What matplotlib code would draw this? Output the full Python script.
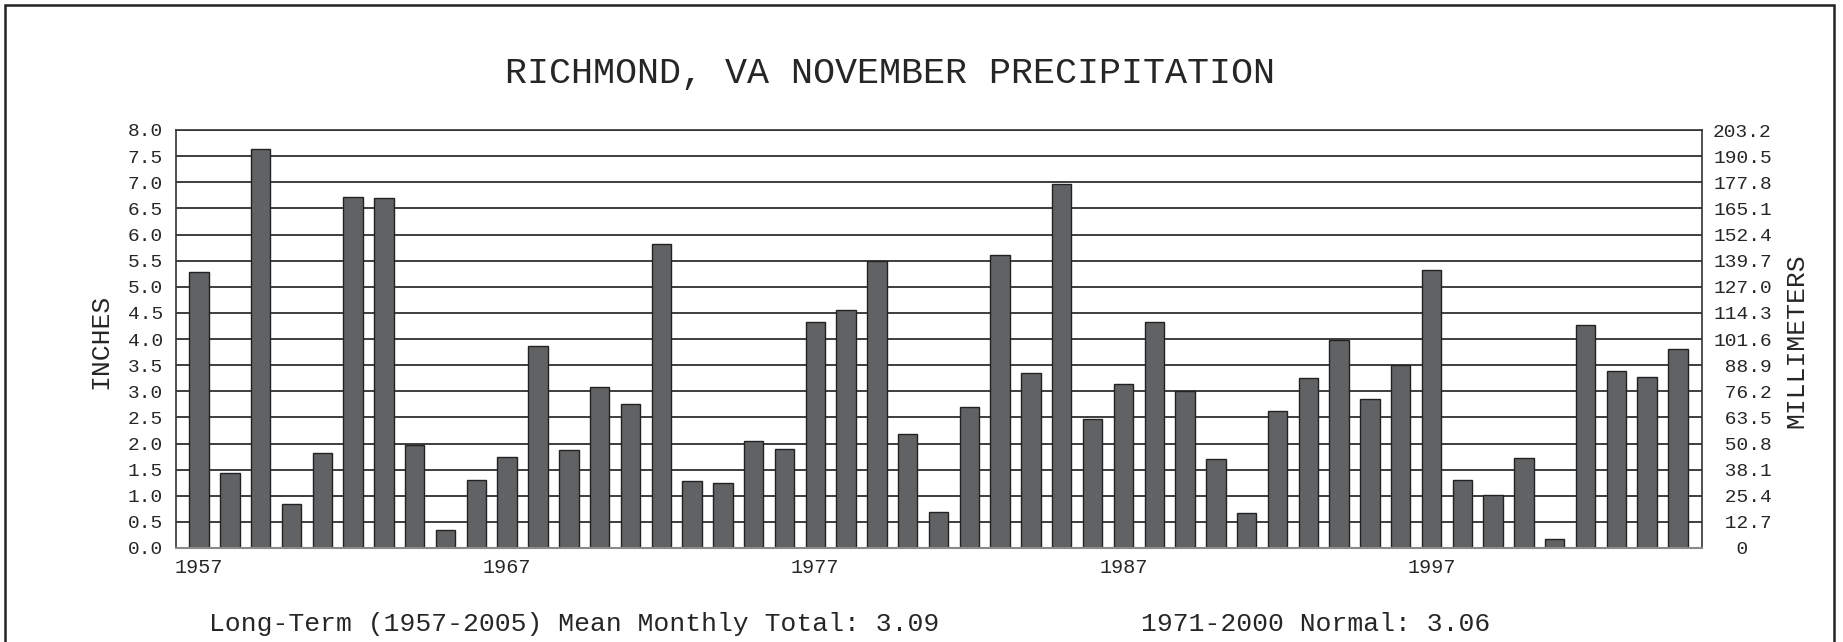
import matplotlib
matplotlib.use("Agg")
import matplotlib.pyplot as plt
from matplotlib.patches import Rectangle
import numpy as np

years = list(range(1957, 2006))
precip_in = [5.29, 1.43, 7.63, 0.85, 1.81, 6.72, 6.69, 1.98, 0.35, 1.30,
             1.75, 3.86, 1.87, 3.09, 2.75, 5.81, 1.28, 1.24, 2.04, 1.89,
             4.32, 4.56, 5.49, 2.18, 0.69, 2.70, 5.61, 3.34, 6.97, 2.46,
             3.13, 4.33, 3.00, 1.70, 0.67, 2.62, 3.25, 3.99, 2.86, 3.51,
             5.32, 1.30, 1.01, 1.72, 0.17, 4.26, 3.38, 3.27, 3.80]
year_ticks = [1957, 1967, 1977, 1987, 1997]
inch_ticks = [0.0, 0.5, 1.0, 1.5, 2.0, 2.5, 3.0, 3.5, 4.0, 4.5, 5.0, 5.5, 6.0, 6.5, 7.0, 7.5, 8.0]
title = "RICHMOND, VA NOVEMBER PRECIPITATION"
mean_text = "Long-Term (1957-2005) Mean Monthly Total: 3.09"
normal_text = "1971-2000 Normal: 3.06"

FONT = "Liberation Mono"
TXT = "#262626"
plt.rcParams['font.family'] = [FONT, 'DejaVu Sans']

W, H = 1843, 642
fig = plt.figure(figsize=(W / 100, H / 100), dpi=100)
fig.patch.set_facecolor("white")

ax = fig.add_axes([176 / W, 94 / H, 1526 / W, 418 / H])
x = np.arange(len(years))
ax.bar(x, precip_in, width=0.63, color="#616264", edgecolor="#222222",
       linewidth=1.0, zorder=3)
ax.set_xlim(-0.75, 48.78)
ax.set_ylim(0, 8.0)
ax.set_yticks(inch_ticks)
ax.set_yticklabels([f"{v:.1f}" for v in inch_ticks], fontsize=14, color=TXT)
ax.yaxis.grid(True, color="#1e1e1e", linewidth=1.2, zorder=0)
ax.set_axisbelow(True)
ax.tick_params(axis="y", length=0, pad=9.5)
ax.set_xticks([years.index(y) for y in year_ticks])
ax.set_xticklabels([str(y) for y in year_ticks], fontsize=14.5, color=TXT)
ax.tick_params(axis="x", length=0, pad=7.5)
for s in ["left", "top", "right"]:
    ax.spines[s].set_color("#333333")
    ax.spines[s].set_linewidth(1.2)
ax.spines["bottom"].set_color("#8a8a8a")
ax.spines["bottom"].set_linewidth(1.5)
ax.spines["bottom"].set_zorder(4)

ax2 = ax.twinx()
ax2.set_ylim(0, 8.0 * 25.4)
mm_ticks = [v * 25.4 for v in inch_ticks]
ax2.set_yticks(mm_ticks)
labels = []
for v in mm_ticks:
    if v == 0:
        labels.append("  0")
    else:
        labels.append(f"{v:5.1f}")
ax2.set_yticklabels(labels, fontsize=14, color=TXT)
ax2.tick_params(axis="y", length=0, pad=8)
for s in ax2.spines.values():
    s.set_visible(False)

fig.text(0.483, 1 - 74 / H, title, fontsize=26.5, color=TXT,
         ha="center", va="center", family=FONT)
fig.text(100 / W, 0.469, "INCHES", rotation=90, fontsize=19, color=TXT,
         ha="center", va="center", family=FONT)
fig.text(1796 / W, 0.469, "MILLIMETERS", rotation=90, fontsize=19, color=TXT,
         ha="center", va="center", family=FONT)
fig.text(209 / W, 1 - 624 / H, mean_text, fontsize=19, color=TXT,
         ha="left", va="center", family=FONT)
fig.text(1141 / W, 1 - 624 / H, normal_text, fontsize=19, color=TXT,
         ha="left", va="center", family=FONT)

fig.add_artist(Rectangle((5 / W, -0.05), (1834 - 5) / W, 1.05 - 5 / H,
                         transform=fig.transFigure, fill=False,
                         edgecolor="#222222", linewidth=1.8))

fig.savefig("out.png", dpi=100, facecolor="white")
